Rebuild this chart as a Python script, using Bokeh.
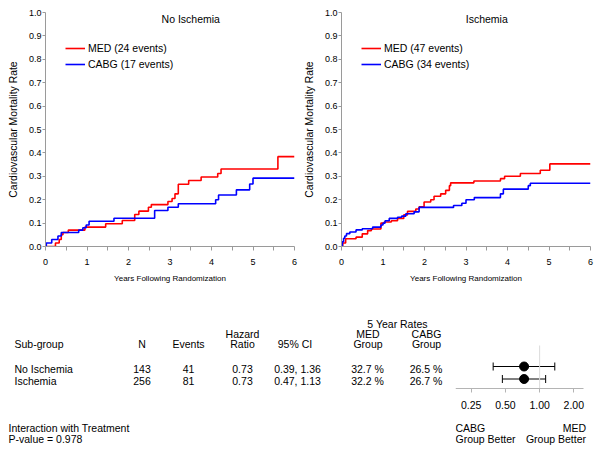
from bokeh.plotting import figure
from bokeh.layouts import column, row
from bokeh.models import (Range1d, FixedTicker, NumeralTickFormatter, Label, Whisker,
                          TeeHead, ColumnDataSource, Legend)
from bokeh.core.properties import value
from bokeh.embed import file_html
from bokeh.resources import INLINE

FONT = "Liberation Sans"
FONT_V = value(FONT)

# ---------------- data ----------------
panel_titles = ["No Ischemia", "Ischemia"]
med_labels = ["MED (24 events)", "MED (47 events)"]
cabg_labels = ["CABG (17 events)", "CABG (34 events)"]
y_title = "Cardiovascular Mortality Rate"
x_title = "Years Following Randomization"

noisch_med_t = [0, 0.24, 0.33, 0.38, 0.42, 0.55, 0.95, 1.45, 1.85, 2.15, 2.25, 2.48, 2.55, 2.95,
                3.05, 3.12, 3.2, 3.45, 3.75, 4.15, 4.23, 5.6, 6.0]
noisch_med_r = [0, 0.015, 0.03, 0.05, 0.06, 0.07, 0.083, 0.097, 0.111, 0.137, 0.151, 0.168, 0.179,
                0.192, 0.205, 0.225, 0.266, 0.282, 0.297, 0.312, 0.331, 0.384, 0.384]
noisch_cabg_t = [0, 0.02, 0.15, 0.3, 0.38, 0.8, 0.9, 0.98, 1.05, 1.65, 2.63, 2.95, 3.2, 4.1, 4.17,
                 4.6, 4.92, 5.0, 6.0]
noisch_cabg_r = [0, 0.015, 0.03, 0.045, 0.06, 0.07, 0.08, 0.092, 0.108, 0.121, 0.154, 0.168, 0.183,
                 0.2, 0.22, 0.242, 0.267, 0.292, 0.292]

isch_med_t = [0, 0.03, 0.1, 0.35, 0.5, 0.63, 0.72, 0.95, 1.03, 1.2, 1.35, 1.5, 1.59, 1.79, 1.87,
              1.99, 2.15, 2.23, 2.39, 2.51, 2.6, 2.63, 3.19, 3.83, 3.93, 4.31, 4.79, 5.02, 6.0]
isch_med_r = [0, 0.015, 0.033, 0.04, 0.054, 0.068, 0.075, 0.1, 0.105, 0.11, 0.12, 0.135, 0.15,
              0.16, 0.17, 0.19, 0.2, 0.215, 0.225, 0.24, 0.26, 0.272, 0.28, 0.29, 0.3, 0.312,
              0.326, 0.353, 0.353]
isch_cabg_t = [0, 0.02, 0.05, 0.08, 0.12, 0.2, 0.35, 0.5, 0.75, 0.95, 1.0, 1.05, 1.15, 1.35, 1.45,
               1.55, 1.75, 1.87, 2.7, 2.9, 3.0, 3.2, 3.83, 3.9, 4.5, 4.55, 6.0]
isch_cabg_r = [0, 0.02, 0.035, 0.045, 0.055, 0.062, 0.071, 0.076, 0.083, 0.092, 0.1, 0.11, 0.12,
               0.125, 0.13, 0.14, 0.148, 0.167, 0.175, 0.185, 0.2, 0.209, 0.225, 0.245, 0.26,
               0.27, 0.27]

x_ticks = [0, 1, 2, 3, 4, 5, 6]
x_minor = [0.5, 1.5, 2.5, 3.5, 4.5, 5.5]
y_ticks = [0, 0.1, 0.2, 0.3, 0.4, 0.5, 0.6, 0.7, 0.8, 0.9, 1.0]

subgroups = ["No Ischemia", "Ischemia"]
n_pat = [143, 256]
n_events = [41, 81]
hr = [0.73, 0.73]
ci_lo = [0.39, 0.47]
ci_hi = [1.36, 1.13]
med_5yr = [32.7, 32.2]
cabg_5yr = [26.5, 26.7]
forest_ticks = [0.25, 0.5, 1.0, 2.0]
p_value = 0.978

RED = "#ff0000"
BLUE = "#0000ff"
AXIS = "#9a9a9a"


def km_panel(width, left_border, title, mt, mr, ct, cr, ml, cl):
    p = figure(width=width, height=298, x_range=Range1d(0, 6), y_range=Range1d(0, 1),
               output_backend="svg", toolbar_location=None,
               min_border_left=left_border, min_border_right=width - left_border - 249,
               min_border_top=12, min_border_bottom=52)
    p.outline_line_color = None
    p.grid.visible = False
    p.background_fill_color = "white"
    r1 = p.step(mt, mr, mode="after", line_color=RED, line_width=1.6)
    r2 = p.step(ct, cr, mode="after", line_color=BLUE, line_width=1.6)
    leg = Legend(items=[(ml, [r1]), (cl, [r2])], location=(20, 174),
                 border_line_color=None, background_fill_alpha=0, padding=0, margin=0,
                 spacing=0, label_height=16, glyph_height=16, glyph_width=20,
                 label_standoff=3, label_text_font=FONT, label_text_font_size="10.5px",
                 label_text_color="black")
    p.add_layout(leg)
    p.add_layout(Label(x=3.5, y=0.971, text=title, text_align="center", text_baseline="middle",
                       text_font=FONT, text_font_size="10.5px", text_color="black"))
    for ax in (p.xaxis[0], p.yaxis[0]):
        ax.axis_line_color = AXIS
        ax.major_tick_line_color = AXIS
        ax.minor_tick_line_color = AXIS
        ax.major_tick_in = 0
        ax.minor_tick_in = 0
        ax.major_label_text_font = FONT
        ax.major_label_text_font_size = "9px"
        ax.major_label_text_color = "black"
        ax.axis_label_text_font = FONT
        ax.axis_label_text_font_style = "normal"
        ax.axis_label_text_color = "black"
    xa = p.xaxis[0]
    xa.ticker = FixedTicker(ticks=x_ticks, minor_ticks=x_minor)
    xa.major_tick_out = 4
    xa.minor_tick_out = 4
    xa.major_label_standoff = 8
    xa.axis_label = x_title
    xa.axis_label_text_font_size = "8px"
    xa.axis_label_standoff = 6
    ya = p.yaxis[0]
    ya.ticker = FixedTicker(ticks=y_ticks)
    ya.formatter = NumeralTickFormatter(format="0.0")
    ya.major_tick_out = 3
    ya.minor_tick_out = 0
    ya.major_label_standoff = 1
    ya.axis_label = y_title
    ya.axis_label_text_font_size = "10.4px"
    ya.axis_label_standoff = 7
    return p


p_left = km_panel(300, 45, panel_titles[0], noisch_med_t, noisch_med_r, noisch_cabg_t,
                  noisch_cabg_r, med_labels[0], cabg_labels[0])
p_right = km_panel(301, 41, panel_titles[1], isch_med_t, isch_med_r, isch_cabg_t,
                   isch_cabg_r, med_labels[1], cabg_labels[1])

# ---------------- table ----------------
row_y = [366 + 12.5 * i for i in range(len(subgroups))]
text_y = [y + 2 for y in row_y]

t = figure(width=450, height=156, x_range=Range1d(0, 450), y_range=Range1d(454, 298),
           output_backend="svg", toolbar_location=None, x_axis_location=None,
           y_axis_location=None, min_border=0)
t.outline_line_color = None
t.grid.visible = False


def txt(fig, x, y, s, align="center", size="10.5px"):
    fig.text(x=x, y=y, text=s, text_align=align, text_baseline="middle",
             text_font=FONT_V, text_font_size=size, text_color="black")


head1, head2, head3 = 323.5, 333.5, 343.5
txt(t, [397], [head1], ["5 Year Rates"])
txt(t, [242, 367.5, 426], [head2] * 3, ["Hazard", "MED", "CABG"])
txt(t, [141.5, 188, 242, 294.5, 367.5, 426], [head3] * 6,
    ["N", "Events", "Ratio", "95% CI", "Group", "Group"])
txt(t, [14], [head3], ["Sub-group"], align="left")

txt(t, [14] * len(subgroups), text_y, subgroups, align="left")
txt(t, [141.5] * 2, text_y, [str(v) for v in n_pat])
txt(t, [188] * 2, text_y, [str(v) for v in n_events])
txt(t, [242] * 2, text_y, [f"{v:.2f}" for v in hr])
txt(t, [297] * 2, text_y, [f"{a:.2f}, {b:.2f}" for a, b in zip(ci_lo, ci_hi)])
txt(t, [367] * 2, text_y, [f"{v:.1f} %" for v in med_5yr])
txt(t, [425.5] * 2, text_y, [f"{v:.1f} %" for v in cabg_5yr])
txt(t, [8, 8], [427.5, 438.5], ["Interaction with Treatment", f"P-value = {p_value:.3f}"],
    align="left")

# ---------------- forest ----------------
f = figure(width=151, height=156, x_axis_type="log", x_range=Range1d(0.1818, 2.805),
           y_range=Range1d(454, 298), output_backend="svg", toolbar_location=None,
           y_axis_location=None, min_border_left=5, min_border_right=11, min_border_top=0,
           min_border_bottom=0)
f.outline_line_color = None
f.grid.visible = False
fa = f.xaxis[0]
fa.fixed_location = 388.3
fa.bounds = (0.1818, 2.43)
fa.ticker = FixedTicker(ticks=forest_ticks, minor_ticks=[])
fa.formatter = NumeralTickFormatter(format="0.00")
fa.axis_line_color = "#b4b4b4"
fa.major_tick_line_color = "#b4b4b4"
fa.major_tick_in = 0
fa.major_tick_out = 4
fa.minor_tick_out = 0
fa.minor_tick_in = 0
fa.major_label_standoff = 8
fa.major_label_text_font = FONT
fa.major_label_text_font_size = "10.5px"
fa.major_label_text_color = "black"

f.segment(x0=[1], y0=[345], x1=[1], y1=[388.3], line_color="#dcdcdc", line_width=1)
src = ColumnDataSource(dict(y=row_y, lo=ci_lo, hi=ci_hi, hr=hr))
f.add_layout(Whisker(source=src, base="y", lower="lo", upper="hi", dimension="width",
                     line_color="black", line_width=1,
                     lower_head=TeeHead(size=8, line_color="black", line_width=1),
                     upper_head=TeeHead(size=8, line_color="black", line_width=1)))
f.scatter(x="hr", y="y", source=src, size=9, color="black")
txt(f, [0.1818, 0.1818], [427.5, 438.5], ["CABG", "Group Better"], align="left")
txt(f, [2.56, 2.56], [427.5, 438.5], ["MED", "Group Better"], align="right")

layout = column(row(p_left, p_right), row(t, f))
open("out.html", "w").write(file_html(layout, INLINE))
